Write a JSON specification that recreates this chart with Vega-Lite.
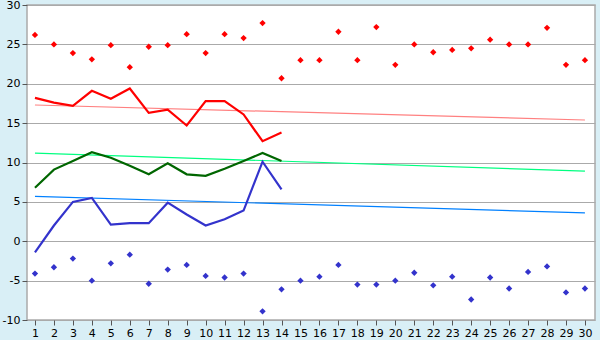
{
  "$schema": "https://vega.github.io/schema/vega-lite/v6.json",
  "autosize": {"type": "none"},
  "padding": {"left": 27, "top": 5, "right": 5, "bottom": 20},
  "width": 568,
  "height": 315,
  "background": "#d9eff6",
  "config": {
    "view": {"fill": "white", "stroke": "#aaaaaa", "strokeWidth": 1.5},
    "axis": {"labelFont": "DejaVu Sans", "labelFontSize": 11, "labelColor": "#000000", "domainColor": "#aaaaaa", "tickColor": "#555555", "title": null, "labelOverlap": false},
    "axisY": {"values": [-10,-5,0,5,10,15,20,25,30], "grid": true, "gridColor": "#aaaaaa", "gridWidth": 1.2, "tickSize": 5, "labelPadding": 2, "domain": false, "labelExpr": "'' + datum.value"}
  },
  "datasets": {
    "records": [
      {"day": 1, "hi": 26.2, "lo": -4.1}, {"day": 2, "hi": 25.0, "lo": -3.3}, {"day": 3, "hi": 23.9, "lo": -2.2},
      {"day": 4, "hi": 23.1, "lo": -5.0}, {"day": 5, "hi": 24.9, "lo": -2.8}, {"day": 6, "hi": 22.1, "lo": -1.7},
      {"day": 7, "hi": 24.7, "lo": -5.4}, {"day": 8, "hi": 24.9, "lo": -3.6}, {"day": 9, "hi": 26.3, "lo": -3.0},
      {"day": 10, "hi": 23.9, "lo": -4.4}, {"day": 11, "hi": 26.3, "lo": -4.6}, {"day": 12, "hi": 25.8, "lo": -4.1},
      {"day": 13, "hi": 27.7, "lo": -8.9}, {"day": 14, "hi": 20.7, "lo": -6.1}, {"day": 15, "hi": 23.0, "lo": -5.0},
      {"day": 16, "hi": 23.0, "lo": -4.5}, {"day": 17, "hi": 26.6, "lo": -3.0}, {"day": 18, "hi": 23.0, "lo": -5.5},
      {"day": 19, "hi": 27.2, "lo": -5.5}, {"day": 20, "hi": 22.4, "lo": -5.0}, {"day": 21, "hi": 25.0, "lo": -4.0},
      {"day": 22, "hi": 24.0, "lo": -5.6}, {"day": 23, "hi": 24.3, "lo": -4.5}, {"day": 24, "hi": 24.5, "lo": -7.4},
      {"day": 25, "hi": 25.6, "lo": -4.6}, {"day": 26, "hi": 25.0, "lo": -6.0}, {"day": 27, "hi": 25.0, "lo": -3.9},
      {"day": 28, "hi": 27.1, "lo": -3.2}, {"day": 29, "hi": 22.4, "lo": -6.5}, {"day": 30, "hi": 23.0, "lo": -6.0}
    ],
    "obs": [
      {"day": 1, "tmax": 18.2, "tmean": 6.8, "tmin": -1.4},
      {"day": 2, "tmax": 17.6, "tmean": 9.1, "tmin": 2.0},
      {"day": 3, "tmax": 17.2, "tmean": 10.2, "tmin": 5.0},
      {"day": 4, "tmax": 19.1, "tmean": 11.3, "tmin": 5.5},
      {"day": 5, "tmax": 18.1, "tmean": 10.6, "tmin": 2.1},
      {"day": 6, "tmax": 19.4, "tmean": 9.6, "tmin": 2.3},
      {"day": 7, "tmax": 16.3, "tmean": 8.5, "tmin": 2.3},
      {"day": 8, "tmax": 16.7, "tmean": 9.9, "tmin": 4.9},
      {"day": 9, "tmax": 14.7, "tmean": 8.5, "tmin": 3.4},
      {"day": 10, "tmax": 17.8, "tmean": 8.3, "tmin": 2.0},
      {"day": 11, "tmax": 17.8, "tmean": 9.2, "tmin": 2.8},
      {"day": 12, "tmax": 16.1, "tmean": 10.2, "tmin": 3.9},
      {"day": 13, "tmax": 12.7, "tmean": 11.2, "tmin": 10.1},
      {"day": 14, "tmax": 13.8, "tmean": 10.2, "tmin": 6.6}
    ],
    "trend": [
      {"day": 1, "tmax": 17.3, "tmean": 11.2, "tmin": 5.7},
      {"day": 30, "tmax": 15.4, "tmean": 8.9, "tmin": 3.6}
    ]
  },
  "encoding": {
    "x": {"field": "day", "type": "quantitative",
      "scale": {"domain": [0.58, 30.53], "nice": false, "zero": false},
      "axis": {"values": [1,2,3,4,5,6,7,8,9,10,11,12,13,14,15,16,17,18,19,20,21,22,23,24,25,26,27,28,29,30], "grid": false, "tickSize": 5, "labelPadding": 2, "domain": false}}
  },
  "layer": [
    {"data": {"name": "trend"}, "mark": {"type": "line", "color": "#ff8080", "strokeWidth": 1.2},
     "encoding": {"y": {"field": "tmax", "type": "quantitative",
       "scale": {"domain": [-10, 30], "nice": false, "zero": false}}}},
    {"data": {"name": "trend"}, "mark": {"type": "line", "color": "#00ff80", "strokeWidth": 1.2},
     "encoding": {"y": {"field": "tmean", "type": "quantitative"}}},
    {"data": {"name": "trend"}, "mark": {"type": "line", "color": "#0080ff", "strokeWidth": 1.2},
     "encoding": {"y": {"field": "tmin", "type": "quantitative"}}},
    {"data": {"name": "obs"}, "mark": {"type": "line", "color": "#ff0000", "strokeWidth": 2.2},
     "encoding": {"y": {"field": "tmax", "type": "quantitative"}}},
    {"data": {"name": "obs"}, "mark": {"type": "line", "color": "#006600", "strokeWidth": 2.2},
     "encoding": {"y": {"field": "tmean", "type": "quantitative"}}},
    {"data": {"name": "obs"}, "mark": {"type": "line", "color": "#3333cc", "strokeWidth": 2.2},
     "encoding": {"y": {"field": "tmin", "type": "quantitative"}}},
    {"data": {"name": "records"}, "mark": {"type": "point", "shape": "diamond", "filled": true, "color": "#ff0000", "size": 40, "opacity": 1},
     "encoding": {"y": {"field": "hi", "type": "quantitative"}}},
    {"data": {"name": "records"}, "mark": {"type": "point", "shape": "diamond", "filled": true, "color": "#3333cc", "size": 40, "opacity": 1},
     "encoding": {"y": {"field": "lo", "type": "quantitative"}}}
  ]
}
